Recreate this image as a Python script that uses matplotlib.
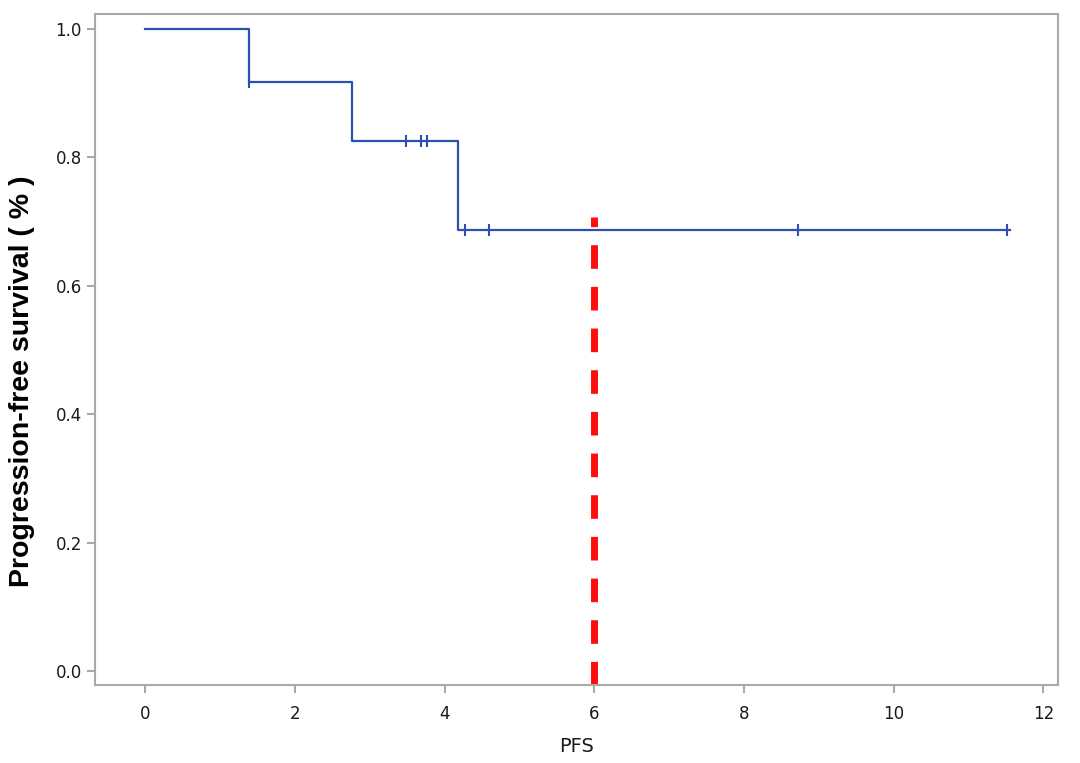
import matplotlib
matplotlib.use("Agg")
import matplotlib.pyplot as plt

# Kaplan-Meier step curve (time, survival after step)
step_times = [0.0, 1.39, 2.77, 4.18, 11.55]
step_surv = [1.0, 0.917, 0.825, 0.687, 0.687]

# censored observations
censor_times = [1.39, 3.49, 3.68, 3.77, 4.28, 4.6, 8.72, 11.52]
censor_surv = [0.917, 0.825, 0.825, 0.825, 0.687, 0.687, 0.687, 0.687]

cutoff_x = 6
cutoff_top = 0.706

x_ticks = [0, 2, 4, 6, 8, 10, 12]
y_ticks = [0.0, 0.2, 0.4, 0.6, 0.8, 1.0]

blue = "#2b50b0"
grey = "#a9a9a9"

fig = plt.figure(figsize=(10.8, 7.63), dpi=100)
ax = fig.add_axes([0.088, 0.102, 0.892, 0.88])

ax.step(step_times, step_surv, where="post", color=blue, lw=1.6)
ax.plot(censor_times, censor_surv, ls="none", marker="|", ms=9, mew=1.5, color=blue)

ylo = -0.022
ax.vlines(cutoff_x, ylo, cutoff_top, colors="#ff0d0d", lw=5, linestyles=(0, (3.4, 2.6)))

ax.set_xlim(-0.668, 12.2)
ax.set_ylim(ylo, 1.023)
ax.set_xticks(x_ticks)
ax.set_yticks(y_ticks)
ax.set_yticklabels([f"{v:.1f}" for v in y_ticks])

for s in ax.spines.values():
    s.set_color(grey)
    s.set_linewidth(1.5)
ax.tick_params(colors=grey, labelcolor="#1a1a1a", labelsize=12, length=6, width=1.5)
ax.tick_params(axis="x", pad=8)

ax.set_xlabel("PFS", fontsize=14, color="#1a1a1a", labelpad=10)
ax.set_ylabel("Progression-free survival ( % )", fontsize=20.5, fontweight="bold",
              family="Liberation Sans")
ax.yaxis.set_label_coords(-0.062, 0.452)

fig.savefig("out.png", dpi=100)
